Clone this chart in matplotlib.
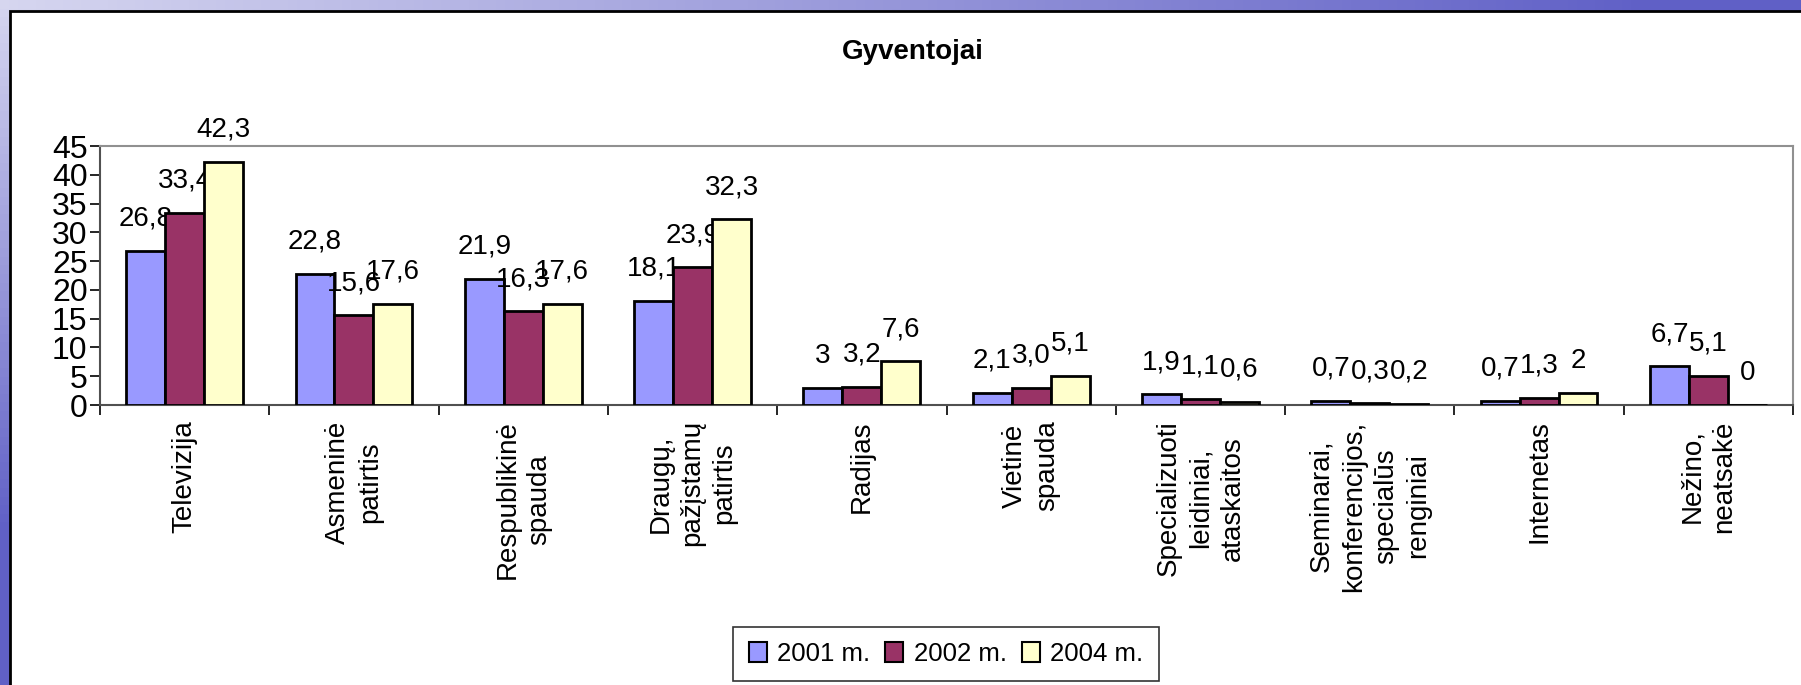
import numpy as np
import matplotlib
matplotlib.use('Agg')
import matplotlib.pyplot as plt
from matplotlib.patches import Rectangle

plt.rcParams['font.family'] = ['Liberation Sans', 'DejaVu Sans']

# duomenys
kategorijos = ['Televizija', 'Asmeninė\npatirtis', 'Respublikinė\nspauda',
               'Draugų,\npažįstamų\npatirtis', 'Radijas', 'Vietinė\nspauda',
               'Specializuoti\nleidiniai,\nataskaitos',
               'Seminarai,\nkonferencijos,\nspecialūs\nrenginiai',
               'Internetas', 'Nežino,\nneatsakė']
metai = ['2001 m.', '2002 m.', '2004 m.']
v2001 = [26.8, 22.8, 21.9, 18.1, 3, 2.1, 1.9, 0.7, 0.7, 6.7]
v2002 = [33.4, 15.6, 16.3, 23.9, 3.2, 3.0, 1.1, 0.3, 1.3, 5.1]
v2004 = [42.3, 17.6, 17.6, 32.3, 7.6, 5.1, 0.6, 0.2, 2, 0]
l2001 = ['26,8', '22,8', '21,9', '18,1', '3', '2,1', '1,9', '0,7', '0,7', '6,7']
l2002 = ['33,4', '15,6', '16,3', '23,9', '3,2', '3,0', '1,1', '0,3', '1,3', '5,1']
l2004 = ['42,3', '17,6', '17,6', '32,3', '7,6', '5,1', '0,6', '0,2', '2', '0']
spalvos = ['#9999ff', '#993366', '#ffffcc']

W, H = 1801, 685
fig = plt.figure(figsize=(W / 100, H / 100), dpi=100)

# fonas - melsvas gradientas
bg = fig.add_axes([0, 0, 1, 1], zorder=-10)
xx, yy = np.meshgrid(np.linspace(0, 1, 200), np.linspace(0, 1, 80))
t = np.clip(np.hypot(xx * 1.1, yy * 1.3), 0, 1)[..., None]
sviesi = np.array([0.84, 0.84, 0.94])
tamsi = np.array([0.38, 0.38, 0.78])
bg.imshow(sviesi * (1 - t) + tamsi * t, aspect='auto', extent=[0, 1, 0, 1],
          origin='upper')
bg.axis('off')
fig.patches.append(Rectangle((9.5 / W, -0.02), 1.1, 1 - 10.5 / H + 0.02,
                             transform=fig.transFigure, facecolor='white',
                             edgecolor='black', linewidth=2, zorder=-5))

ax = fig.add_axes([100 / W, 1 - 405 / H, 1693 / W, 259 / H])
x = np.arange(len(kategorijos))
w = 0.23
for i, (vals, labs) in enumerate([(v2001, l2001), (v2002, l2002), (v2004, l2004)]):
    bars = ax.bar(x + (i - 1) * w, vals, w, color=spalvos[i], edgecolor='black',
                  linewidth=2, label=metai[i], zorder=3)
    for b, lab in zip(bars, labs):
        ax.annotate(lab, (b.get_x() + b.get_width() / 2, b.get_height()),
                    xytext=(0, 18), textcoords='offset points', ha='center',
                    va='baseline', fontsize=20)

ax.set_xlim(-0.5, len(kategorijos) - 0.5)
ax.set_ylim(0, 45)
ax.set_yticks(range(0, 46, 5))
ax.tick_params(axis='y', labelsize=23, length=7, width=1.2, pad=2)
ax.set_xticks(x)
ax.set_xticklabels(kategorijos, rotation=90, fontsize=20, multialignment='center',
                   linespacing=1.3)
ax.tick_params(axis='x', which='major', length=0, pad=11)
ax.set_xticks(np.arange(-0.5, len(kategorijos), 1), minor=True)
ax.tick_params(axis='x', which='minor', length=7, width=1.2)
for s in ['top', 'right']:
    ax.spines[s].set_color('#909090')
    ax.spines[s].set_linewidth(1.5)
for s in ['left', 'bottom']:
    ax.spines[s].set_color('#505050')
    ax.spines[s].set_linewidth(1.5)

fig.text(913 / W, 1 - 52 / H, 'Gyventojai', ha='center', va='center',
         fontsize=20, fontweight='bold')

leg = fig.legend(loc='center', bbox_to_anchor=(946 / W, 1 - 654 / H), ncol=3,
                 fontsize=18.5, frameon=True, fancybox=False, handlelength=0.7,
                 handleheight=0.8, handletextpad=0.4, columnspacing=0.6,
                 borderpad=0.6)
leg.get_frame().set_edgecolor('black')
leg.get_frame().set_linewidth(1.2)
for h in leg.legend_handles:
    h.set_linewidth(1.5)

fig.savefig('out.png', dpi=100)
